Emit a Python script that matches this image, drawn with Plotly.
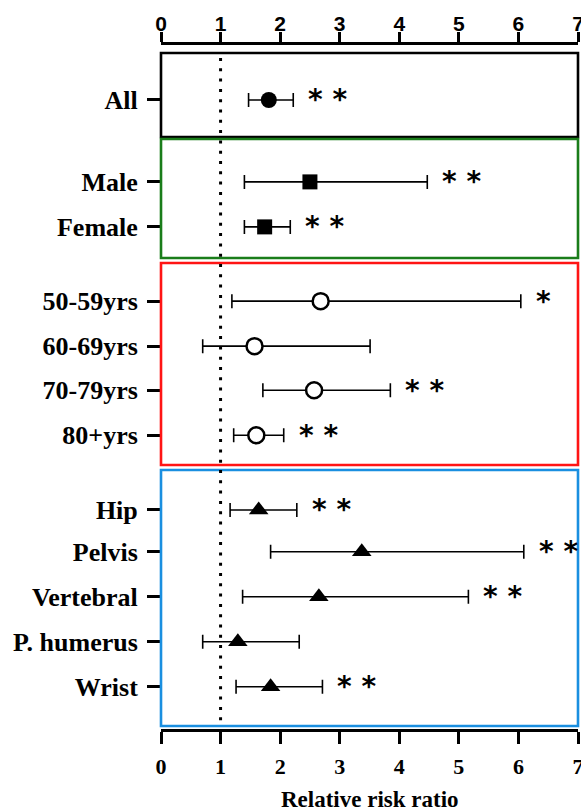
import plotly.graph_objects as go

# ---------------- data ----------------
labels = ["All", "Male", "Female", "50-59yrs", "60-69yrs", "70-79yrs", "80+yrs",
          "Hip", "Pelvis", "Vertebral", "P. humerus", "Wrist"]
rr = [1.81, 2.50, 1.74, 2.68, 1.57, 2.57, 1.60, 1.64, 3.37, 2.65, 1.29, 1.84]
lower = [1.47, 1.40, 1.40, 1.19, 0.70, 1.71, 1.22, 1.16, 1.84, 1.37, 0.70, 1.26]
upper = [2.22, 4.47, 2.17, 6.04, 3.51, 3.85, 2.06, 2.28, 6.09, 5.16, 2.32, 2.71]
sig = ["**", "**", "**", "*", "", "**", "**", "**", "**", "**", "", "**"]
x_ticks = [0, 1, 2, 3, 4, 5, 6, 7]
null_value = 1

# ---------------- layout helpers ----------------
# vertical row positions (row units, 1 unit = one row spacing)
row_pos = [0, 1.82, 2.82, 4.47, 5.47, 6.45, 7.45, 9.11, 10.04, 11.04, 12.04, 13.04]
Y_RANGE = [13.978, -1.222]

W, H = 581, 811
ML, MR, MT, MB = 161, 3, 45, 82
plot_h = H - MT - MB


def paper_y(px):
    return (H - MB - px) / plot_h


groups = [
    dict(idx=[0], symbol="circle", fill="black", lw=0, size=16, box=(53, 137), color="#000000"),
    dict(idx=[1, 2], symbol="square", fill="black", lw=0, size=15, box=(139, 258), color="#1a7d1a"),
    dict(idx=[3, 4, 5, 6], symbol="circle", fill="white", lw=2.5, size=16, box=(263, 465), color="#ff1414"),
    dict(idx=[7, 8, 9, 10, 11], symbol="triangle-up", fill="black", lw=0, size=17, box=(470, 726), color="#1a8fe0"),
]

fig = go.Figure()
shapes = []

for g in groups:
    ids = g["idx"]
    fig.add_trace(go.Scatter(
        x=[rr[i] for i in ids],
        y=[row_pos[i] for i in ids],
        mode="markers",
        marker=dict(symbol=g["symbol"], size=g["size"], color=g["fill"],
                    line=dict(color="black", width=g["lw"])),
        error_x=dict(type="data", symmetric=False,
                     array=[upper[i] - rr[i] for i in ids],
                     arrayminus=[rr[i] - lower[i] for i in ids],
                     thickness=1.6, width=7, color="black"),
        showlegend=False, hoverinfo="x+y",
    ))
    y0, y1 = g["box"]
    shapes.append(dict(type="rect", xref="paper", yref="paper",
                       x0=0, x1=1, y0=paper_y(y1), y1=paper_y(y0),
                       line=dict(color=g["color"], width=2.6), layer="above"))

# reference line at RR = 1
shapes.append(dict(type="line", xref="x", yref="y", x0=null_value, x1=null_value,
                   y0=(58 - 100) / 45, y1=(722 - 100) / 45,
                   line=dict(color="black", width=3, dash="3px,7.3px")))

annotations = []
for i, s in enumerate(sig):
    if s:
        annotations.append(dict(x=upper[i], y=row_pos[i], xref="x", yref="y",
                                text=s.replace("**", "* *"), showarrow=False,
                                xanchor="left", yanchor="middle", xshift=13,
                                font=dict(family="DejaVu Sans", size=28, color="black",
                                          weight="bold")))

annotations.append(dict(x=0.5, y=paper_y(799), xref="paper", yref="paper",
                        text="Relative risk ratio", showarrow=False,
                        xanchor="center", yanchor="middle",
                        font=dict(family="Liberation Serif", size=23, color="black", weight="bold")))

fig.add_trace(go.Scatter(x=[x_ticks[0], x_ticks[-1]], y=[None, None], xaxis="x2",
                         mode="markers", showlegend=False, hoverinfo="skip"))

axis_common = dict(range=[x_ticks[0], x_ticks[-1]], tickvals=x_ticks,
                   showline=True, linecolor="black", linewidth=2.6,
                   ticks="outside", tickwidth=2.6, tickcolor="black",
                   ticklabeloverflow="allow",
                   showgrid=False, zeroline=False, automargin=False, fixedrange=True)

fig.update_layout(
    template="none",
    width=W, height=H,
    margin=dict(l=ML, r=MR, t=MT, b=MB, pad=0),
    paper_bgcolor="white", plot_bgcolor="white",
    xaxis=dict(**axis_common, side="bottom", ticklen=12, ticklabelstandoff=4,
               tickfont=dict(family="Liberation Serif", size=22, color="black", weight="bold")),
    xaxis2=dict(**axis_common, side="top", overlaying="x", ticklen=10, ticklabelstandoff=-7,
                tickfont=dict(family="Liberation Sans", size=21, color="black", weight="bold")),
    yaxis=dict(range=Y_RANGE, tickvals=row_pos, ticktext=labels,
               showline=False, ticks="outside", ticklen=13, tickwidth=2.6, tickcolor="black",
               showgrid=False, zeroline=False, automargin=False, fixedrange=True,
               ticklabelstandoff=4,
               tickfont=dict(family="Liberation Serif", size=26, color="black", weight="bold")),
    shapes=shapes,
    annotations=annotations,
)

fig.write_html("out.html", config={"displayModeBar": False},
               post_script="document.body.style.margin='0';document.body.style.overflow='hidden';")
